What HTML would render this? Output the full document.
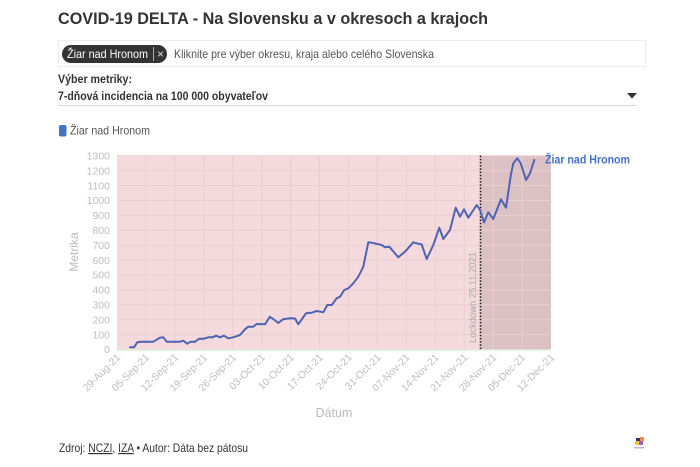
<!DOCTYPE html>
<html><head><meta charset="utf-8"><style>
html,body{margin:0;padding:0;background:#fff;width:700px;height:467px;overflow:hidden}
svg{display:block}
text{font-family:"Liberation Sans",sans-serif}
</style></head><body>
<svg width="700" height="467" viewBox="0 0 700 467" xmlns="http://www.w3.org/2000/svg">
<text x="58" y="24" font-size="17" font-weight="bold" fill="#333" textLength="430" lengthAdjust="spacingAndGlyphs">COVID-19 DELTA - Na Slovensku a v okresoch a krajoch</text>
<rect x="58.5" y="40.5" width="587" height="26" fill="#fff" stroke="#ececec"/>
<rect x="62" y="45" width="105" height="18" rx="9" fill="#333"/>
<text x="67" y="58" font-size="12" fill="#fff" textLength="81" lengthAdjust="spacingAndGlyphs">Žiar nad Hronom</text>
<line x1="153.5" y1="47" x2="153.5" y2="61" stroke="#aaa" stroke-width="1"/>
<text x="157" y="58" font-size="12" fill="#ddd">×</text>
<text x="174" y="58" font-size="12" fill="#555" textLength="260" lengthAdjust="spacingAndGlyphs">Kliknite pre výber okresu, kraja alebo celého Slovenska</text>
<text x="58" y="83" font-size="12" font-weight="bold" fill="#333" textLength="74" lengthAdjust="spacingAndGlyphs">Výber metriky:</text>
<text x="58" y="100" font-size="12" font-weight="bold" fill="#333" textLength="210" lengthAdjust="spacingAndGlyphs">7-dňová incidencia na 100 000 obyvateľov</text>
<polygon points="627,93 637,93 632,98.5" fill="#333"/>
<line x1="58" y1="105.5" x2="637" y2="105.5" stroke="#d8d8d8" stroke-width="1"/>
<rect x="59" y="125" width="7.5" height="11.5" rx="2" fill="#4472c4"/>
<text x="70" y="134.5" font-size="12" fill="#555" textLength="80" lengthAdjust="spacingAndGlyphs">Žiar nad Hronom</text>

<!-- plot -->
<rect x="117" y="155.5" width="363.5" height="194" fill="#f5dadd"/>
<rect x="480.5" y="155.5" width="70.5" height="194" fill="#dcc1c4"/>
<g stroke="#ebcdd1" stroke-width="1">
<line x1="117" y1="155.8" x2="551" y2="155.8"/>
<line x1="117" y1="170.7" x2="551" y2="170.7"/>
<line x1="117" y1="185.6" x2="551" y2="185.6"/>
<line x1="117" y1="200.5" x2="551" y2="200.5"/>
<line x1="117" y1="215.4" x2="551" y2="215.4"/>
<line x1="117" y1="230.3" x2="551" y2="230.3"/>
<line x1="117" y1="245.2" x2="551" y2="245.2"/>
<line x1="117" y1="260.1" x2="551" y2="260.1"/>
<line x1="117" y1="275.0" x2="551" y2="275.0"/>
<line x1="117" y1="289.9" x2="551" y2="289.9"/>
<line x1="117" y1="304.8" x2="551" y2="304.8"/>
<line x1="117" y1="319.7" x2="551" y2="319.7"/>
<line x1="117" y1="334.6" x2="551" y2="334.6"/>
<line x1="145.9" y1="155.5" x2="145.9" y2="349.5"/>
<line x1="174.9" y1="155.5" x2="174.9" y2="349.5"/>
<line x1="203.8" y1="155.5" x2="203.8" y2="349.5"/>
<line x1="232.7" y1="155.5" x2="232.7" y2="349.5"/>
<line x1="261.7" y1="155.5" x2="261.7" y2="349.5"/>
<line x1="290.6" y1="155.5" x2="290.6" y2="349.5"/>
<line x1="319.5" y1="155.5" x2="319.5" y2="349.5"/>
<line x1="348.5" y1="155.5" x2="348.5" y2="349.5"/>
<line x1="377.4" y1="155.5" x2="377.4" y2="349.5"/>
<line x1="406.3" y1="155.5" x2="406.3" y2="349.5"/>
<line x1="435.3" y1="155.5" x2="435.3" y2="349.5"/>
<line x1="464.2" y1="155.5" x2="464.2" y2="349.5"/>
<line x1="493.1" y1="155.5" x2="493.1" y2="349.5"/>
<line x1="522.1" y1="155.5" x2="522.1" y2="349.5"/>
</g>
<line x1="117" y1="350" x2="551" y2="350" stroke="#dcefdc" stroke-width="1.5"/>

<g font-size="10.5" fill="#bdbdbd" text-anchor="end">
<text x="110" y="159.5">1300</text>
<text x="110" y="174.4">1200</text>
<text x="110" y="189.3">1100</text>
<text x="110" y="204.2">1000</text>
<text x="110" y="219.1">900</text>
<text x="110" y="234.0">800</text>
<text x="110" y="248.9">700</text>
<text x="110" y="263.8">600</text>
<text x="110" y="278.7">500</text>
<text x="110" y="293.6">400</text>
<text x="110" y="308.5">300</text>
<text x="110" y="323.4">200</text>
<text x="110" y="338.3">100</text>
<text x="110" y="353.2">0</text>
</g>
<text transform="translate(78,252) rotate(-90)" font-size="12" fill="#bbb" text-anchor="middle">Metrika</text>

<g font-size="10.3" fill="#bdbdbd" text-anchor="end">
<text transform="translate(121,358) rotate(-45)">29-Aug-21</text>
<text transform="translate(149.9,358) rotate(-45)">05-Sep-21</text>
<text transform="translate(178.9,358) rotate(-45)">12-Sep-21</text>
<text transform="translate(207.8,358) rotate(-45)">19-Sep-21</text>
<text transform="translate(236.7,358) rotate(-45)">26-Sep-21</text>
<text transform="translate(265.7,358) rotate(-45)">03-Oct-21</text>
<text transform="translate(294.6,358) rotate(-45)">10-Oct-21</text>
<text transform="translate(323.5,358) rotate(-45)">17-Oct-21</text>
<text transform="translate(352.5,358) rotate(-45)">24-Oct-21</text>
<text transform="translate(381.4,358) rotate(-45)">31-Oct-21</text>
<text transform="translate(410.3,358) rotate(-45)">07-Nov-21</text>
<text transform="translate(439.3,358) rotate(-45)">14-Nov-21</text>
<text transform="translate(468.2,358) rotate(-45)">21-Nov-21</text>
<text transform="translate(497.1,358) rotate(-45)">28-Nov-21</text>
<text transform="translate(526.1,358) rotate(-45)">05-Dec-21</text>
<text transform="translate(555,358) rotate(-45)">12-Dec-21</text>
</g>
<text x="334" y="417" font-size="12.5" fill="#bbb" text-anchor="middle">Dátum</text>

<line x1="480.5" y1="155.5" x2="480.5" y2="349.5" stroke="#222" stroke-width="1.6" stroke-dasharray="1.6,1.6"/>
<text transform="translate(476,343) rotate(-90)" font-size="10.5" fill="#aaa" textLength="91" lengthAdjust="spacingAndGlyphs">Lockdown 25.11.2021</text>

<polyline fill="none" stroke="#4e63b3" stroke-width="2" stroke-linejoin="round" stroke-linecap="round" points="130,347.3 134,347.3 137.3,342.3 141.7,341.7 153.3,341.7 156.7,339.7 160,337.7 163.3,337.3 166.7,341.7 180,341.7 183.3,340.7 187.3,343.7 190.7,341.7 195,341.7 199.3,338.7 204,338.7 208.3,337.3 212.7,337.3 216,335.7 220,337.3 224,335.7 228.3,338.3 233.3,337.3 240,335 245,329.3 248.3,326.7 253.3,326.7 256.7,324 265,324.3 269.8,316.8 273.3,319 278.3,323 283,319.3 290,318.3 295,318.5 298.3,324.3 306,313.3 311.7,312.7 316.7,311 323.3,312.3 327.3,305 331.7,305 336.7,298.3 340,296.7 344.3,290 348.3,288.3 353.3,283.3 358.3,276.7 363.3,266.7 368.3,242.3 371.7,242.7 381.7,245 385,247.3 389.3,246.7 398.3,257.3 405,251.7 413.3,242.3 416.7,243.3 421.7,244.5 426.7,259 433.3,245 439.3,227.7 443.3,239 450,230 455.7,207.7 460,216.7 464,209.3 468.3,217.7 476.7,205 480,210 484,222.3 488.3,212.3 493.3,219 501,199.3 506,207.7 511,174 513.3,163.3 517.3,158.3 520.7,163.3 526,180 530,173.3 534.3,160"/>
<line x1="539" y1="159" x2="543" y2="159" stroke="#d9b9bd" stroke-width="1"/>
<text x="545" y="163.5" font-size="11.5" font-weight="bold" fill="#4472c4" textLength="85" lengthAdjust="spacingAndGlyphs">Žiar nad Hronom</text>

<text x="59" y="452" font-size="12" fill="#333" textLength="189" lengthAdjust="spacingAndGlyphs">Zdroj: <tspan text-decoration="underline">NCZI</tspan>, <tspan text-decoration="underline">IZA</tspan> • Autor: Dáta bez pátosu</text>

<g>
<rect x="636" y="438" width="4" height="4" fill="#2b3a6b"/>
<rect x="640" y="437" width="4" height="4" fill="#ef8a4a"/>
<rect x="635" y="441" width="4" height="4" fill="#f3c13a"/>
<rect x="639" y="441" width="4" height="4" fill="#9c5ed6"/>
<rect x="634" y="447" width="10" height="1.5" fill="#c9b0d8"/>
</g>
</svg>
</body></html>
